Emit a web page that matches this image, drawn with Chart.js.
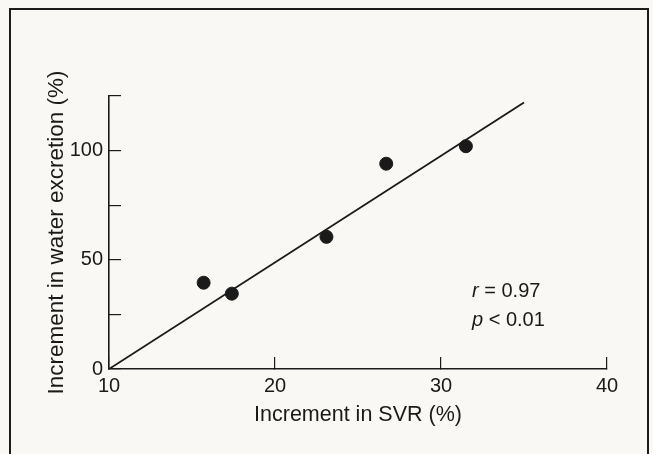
<!DOCTYPE html>
<html>
<head>
<meta charset="utf-8">
<script src="https://cdn.jsdelivr.net/npm/chart.js"></script>
<style>
  body { margin: 0; background: #faf8f4; overflow: hidden; }
  #wrap { position: relative; width: 653px; height: 454px; }
  #frame { position: absolute; left: 9px; top: 8px; width: 636px; height: 470px;
           border: 2px solid #1d1b1b; border-bottom: none; }
  canvas { position: absolute; left: 0; top: 0; }
</style>
</head>
<body>
<div id="wrap">
  <div id="frame"></div>
  <canvas id="chart" width="653" height="454"></canvas>
</div>
<script>
// scatter points
const svr = [15.7, 17.4, 23.1, 26.7, 31.5];
const water = [39.5, 34.5, 60.5, 94, 102];

// regression line end points
const fitX = [10, 35];
const fitY = [0, 122];

const yLabelled = [0, 50, 100];
const statLines = ['r = 0.97', 'p < 0.01'];

const ink = '#1b1a1a';
const font = 'Liberation Sans, Arial, Helvetica, sans-serif';

const statsText = {
  id: 'statsText',
  afterDraw(chart) {
    const c = chart.ctx;
    c.save();
    c.fillStyle = ink;
    c.textBaseline = 'alphabetic';
    const ys = [297, 326];
    statLines.forEach((s, i) => {
      const sym = s.slice(0, 1);
      const rest = s.slice(1);
      c.font = 'italic 20px ' + font;
      c.fillText(sym, 472, ys[i]);
      const w = c.measureText(sym).width;
      c.font = '20px ' + font;
      c.fillText(rest, 472 + w, ys[i]);
    });
    c.restore();
  }
};

new Chart(document.getElementById('chart'), {
  type: 'scatter',
  data: {
    datasets: [{
      data: svr.map((x, i) => ({ x: x, y: water[i] })),
      backgroundColor: ink,
      borderColor: ink,
      pointRadius: 6.5,
      pointHoverRadius: 6.5
    }, {
      type: 'line',
      data: fitX.map((x, i) => ({ x: x, y: fitY[i] })),
      borderColor: ink,
      borderWidth: 1.8,
      pointRadius: 0,
      fill: false
    }]
  },
  options: {
    responsive: false,
    animation: false,
    layout: { padding: { top: 96, right: 46, left: 0, bottom: 0 } },
    plugins: { legend: { display: false }, tooltip: { enabled: false } },
    scales: {
      x: {
        type: 'linear',
        min: 10, max: 40,
        afterFit(s) { s.height = 85; },
        border: { color: ink, width: 1.6 },
        grid: { drawOnChartArea: false, tickLength: -12, color: ink, lineWidth: 1.2 },
        ticks: { stepSize: 10, padding: 17, color: ink, font: { family: font, size: 20 } },
        title: { display: true, text: 'Increment in SVR (%)', color: ink,
                 font: { family: font, size: 21.5 }, padding: { top: 0, bottom: 26 } }
      },
      y: {
        min: 0, max: 125,
        afterFit(s) { s.width = 109; },
        border: { color: ink, width: 1.6 },
        grid: { drawOnChartArea: false, tickLength: -12, color: ink, lineWidth: 1.2 },
        ticks: { stepSize: 25, padding: 18, color: ink, font: { family: font, size: 20 },
                 callback: v => yLabelled.includes(v) ? v : '' },
        title: { display: true, text: 'Increment in water excretion (%)', color: ink,
                 font: { family: font, size: 22.5 }, padding: { top: 43, bottom: 0 } }
      }
    }
  },
  plugins: [statsText]
});
</script>
</body>
</html>
